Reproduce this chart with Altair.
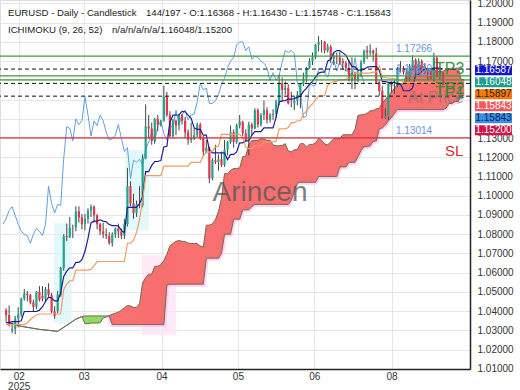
import altair as alt
import pandas as pd

# ---------------- data (bar index 0 = 2025-02-03, first visible bar = 3) ----------------
FIRST_BAR = 3

opens = [
    1.0404, 1.0380, 1.0300, 1.0308, 1.0362, 1.0383, 1.0465, 1.0491, 1.0483, 1.0446,
    1.0422, 1.0501, 1.0480, 1.0465, 1.0514, 1.0484, 1.0398, 1.0400, 1.0485, 1.0625,
    1.0790, 1.0784, 1.0835, 1.0834, 1.0919, 1.0887, 1.0852, 1.0880, 1.0923, 1.0943,
    1.0898, 1.0852, 1.0815, 1.0800, 1.0792, 1.0753, 1.0800, 1.0830, 1.0815, 1.0792,
    1.0852, 1.1050, 1.0960, 1.0910, 1.0955, 1.0950, 1.1195, 1.1360, 1.1350, 1.1285,
    1.1400, 1.1370, 1.1390, 1.1515, 1.1420, 1.1310, 1.1390, 1.1365, 1.1420, 1.1390,
    1.1330, 1.1290, 1.1297, 1.1315, 1.1370, 1.1300, 1.1230, 1.1250, 1.1090, 1.1185,
    1.1175, 1.1190, 1.1160, 1.1240, 1.1280, 1.1330, 1.1280, 1.1365, 1.1385, 1.1325,
    1.1290, 1.1370, 1.1350, 1.1445, 1.1370, 1.1420, 1.1445, 1.1395, 1.1420, 1.1425,
    1.1490, 1.1585, 1.1550, 1.1560, 1.1480, 1.1480, 1.1495, 1.1525, 1.1580, 1.1610,
    1.1665, 1.1700, 1.1720, 1.1785, 1.1800, 1.1800, 1.1755, 1.1775, 1.1710, 1.1725,
    1.1720, 1.1700, 1.1690, 1.1665, 1.1600, 1.1640, 1.1600, 1.1625, 1.1695, 1.1755,
    1.1745, 1.1755, 1.1740, 1.1590, 1.1545, 1.1405, 1.1415, 1.1585, 1.1572, 1.1575,
    1.1660, 1.1665, 1.1642, 1.1616, 1.1675, 1.1705, 1.1648, 1.1700, 1.1662, 1.1648,
    1.1650, 1.1608, 1.1718, 1.1620, 1.16368,
]
highs = [
    1.0415, 1.0430, 1.0340, 1.0375, 1.0420, 1.0470, 1.0515, 1.0505, 1.0490, 1.0460,
    1.0505, 1.0530, 1.0530, 1.0525, 1.0545, 1.0495, 1.0425, 1.0505, 1.0630, 1.0800,
    1.0855, 1.0890, 1.0850, 1.0945, 1.0945, 1.0905, 1.0905, 1.0935, 1.0955, 1.0950,
    1.0905, 1.0860, 1.0860, 1.0830, 1.0810, 1.0810, 1.0835, 1.0855, 1.0830, 1.0880,
    1.1145, 1.1075, 1.1010, 1.0975, 1.1050, 1.1215, 1.1475, 1.1420, 1.1380, 1.1405,
    1.1420, 1.1395, 1.1573, 1.1540, 1.1440, 1.1400, 1.1395, 1.1425, 1.1425, 1.1410,
    1.1345, 1.1380, 1.1350, 1.1380, 1.1380, 1.1310, 1.1290, 1.1255, 1.1195, 1.1265,
    1.1215, 1.1230, 1.1290, 1.1285, 1.1365, 1.1345, 1.1375, 1.1420, 1.1390, 1.1345,
    1.1385, 1.1380, 1.1455, 1.1455, 1.1430, 1.1495, 1.1460, 1.1430, 1.1450, 1.1500,
    1.1630, 1.1615, 1.1595, 1.1580, 1.1540, 1.1515, 1.1545, 1.1585, 1.1640, 1.1670,
    1.1715, 1.1745, 1.1790, 1.1830, 1.1810, 1.1805, 1.1790, 1.1785, 1.1745, 1.1745,
    1.1750, 1.1715, 1.1700, 1.1705, 1.1720, 1.1645, 1.1650, 1.1705, 1.1760, 1.1780,
    1.1788, 1.1760, 1.1770, 1.1600, 1.1570, 1.1455, 1.1590, 1.1595, 1.1600, 1.1670,
    1.1700, 1.1675, 1.1660, 1.1685, 1.1730, 1.1715, 1.1715, 1.1710, 1.1690, 1.1665,
    1.1660, 1.1743, 1.1725, 1.1665, 1.16430,
]
lows = [
    1.0345, 1.0320, 1.0285, 1.0280, 1.0315, 1.0370, 1.0455, 1.0450, 1.0435, 1.0400,
    1.0410, 1.0450, 1.0450, 1.0445, 1.0475, 1.0390, 1.0360, 1.0390, 1.0475, 1.0610,
    1.0765, 1.0780, 1.0780, 1.0815, 1.0860, 1.0825, 1.0820, 1.0855, 1.0890, 1.0860,
    1.0825, 1.0795, 1.0780, 1.0775, 1.0745, 1.0735, 1.0780, 1.0780, 1.0775, 1.0775,
    1.0840, 1.0945, 1.0880, 1.0890, 1.0935, 1.0940, 1.1190, 1.1300, 1.1265, 1.1270,
    1.1335, 1.1360, 1.1385, 1.1410, 1.1305, 1.1300, 1.1315, 1.1340, 1.1370, 1.1300,
    1.1265, 1.1275, 1.1290, 1.1305, 1.1290, 1.1205, 1.1220, 1.1065, 1.1080, 1.1165,
    1.1130, 1.1150, 1.1150, 1.1210, 1.1270, 1.1250, 1.1270, 1.1350, 1.1310, 1.1280,
    1.1210, 1.1315, 1.1345, 1.1355, 1.1360, 1.1395, 1.1375, 1.1380, 1.1395, 1.1405,
    1.1470, 1.1490, 1.1525, 1.1475, 1.1460, 1.1445, 1.1470, 1.1455, 1.1570, 1.1590,
    1.1660, 1.1680, 1.1710, 1.1750, 1.1745, 1.1740, 1.1745, 1.1690, 1.1680, 1.1685,
    1.1680, 1.1655, 1.1650, 1.1595, 1.1555, 1.1555, 1.1590, 1.1615, 1.1685, 1.1710,
    1.1730, 1.1700, 1.1585, 1.1520, 1.1400, 1.1400, 1.1392, 1.1535, 1.1530, 1.1565,
    1.1640, 1.1630, 1.1590, 1.1595, 1.1665, 1.1630, 1.1640, 1.1650, 1.1635, 1.1600,
    1.1605, 1.1585, 1.1615, 1.1605, 1.15748,
]
closes = [
    1.0380, 1.0330, 1.0308, 1.0362, 1.0383, 1.0465, 1.0491, 1.0483, 1.0446, 1.0422,
    1.0501, 1.0458, 1.0465, 1.0514, 1.0484, 1.0398, 1.0375, 1.0485, 1.0625, 1.0790,
    1.0784, 1.0833, 1.0834, 1.0919, 1.0887, 1.0852, 1.0880, 1.0923, 1.0943, 1.0898,
    1.0852, 1.0815, 1.0800, 1.0792, 1.0753, 1.0800, 1.0830, 1.0815, 1.0792, 1.0852,
    1.1050, 1.0960, 1.0910, 1.0955, 1.0950, 1.1195, 1.1360, 1.1350, 1.1285, 1.1400,
    1.1370, 1.1390, 1.1515, 1.1420, 1.1310, 1.1390, 1.1365, 1.1420, 1.1390, 1.1330,
    1.1290, 1.1297, 1.1315, 1.1370, 1.1300, 1.1230, 1.1250, 1.1090, 1.1185, 1.1175,
    1.1190, 1.1160, 1.1240, 1.1280, 1.1330, 1.1280, 1.1365, 1.1385, 1.1325, 1.1290,
    1.1370, 1.1350, 1.1445, 1.1370, 1.1420, 1.1445, 1.1395, 1.1420, 1.1425, 1.1490,
    1.1585, 1.1550, 1.1560, 1.1480, 1.1480, 1.1495, 1.1525, 1.1580, 1.1610, 1.1665,
    1.1700, 1.1720, 1.1785, 1.1800, 1.1800, 1.1755, 1.1775, 1.1710, 1.1725, 1.1720,
    1.1700, 1.1690, 1.1665, 1.1600, 1.1640, 1.1600, 1.1625, 1.1695, 1.1755, 1.1745,
    1.1755, 1.1740, 1.1590, 1.1545, 1.1405, 1.1415, 1.1585, 1.1572, 1.1575, 1.1660,
    1.1665, 1.1642, 1.1616, 1.1675, 1.1705, 1.1648, 1.1700, 1.1662, 1.1648, 1.1650,
    1.1608, 1.1718, 1.1620, 1.1637, 1.15843,
]
tenkan = [
    1.0340, 1.0340, 1.0345, 1.0345, 1.0345, 1.0350, 1.0398, 1.0398, 1.0398, 1.0398,
    1.0398, 1.0405, 1.0423, 1.0450, 1.0473, 1.0468, 1.0453, 1.0453, 1.0495, 1.0580,
    1.0608, 1.0625, 1.0625, 1.0653, 1.0653, 1.0668, 1.0710, 1.0778, 1.0860, 1.0868,
    1.0868, 1.0875, 1.0868, 1.0865, 1.0850, 1.0845, 1.0845, 1.0843, 1.0820, 1.0808,
    1.0940, 1.0940, 1.0940, 1.0940, 1.0960, 1.0995, 1.1125, 1.1125, 1.1158, 1.1178,
    1.1178, 1.1183, 1.1254, 1.1257, 1.1382, 1.1419, 1.1419, 1.1421, 1.1439, 1.1437,
    1.1419, 1.1403, 1.1353, 1.1345, 1.1345, 1.1315, 1.1315, 1.1238, 1.1223, 1.1223,
    1.1223, 1.1223, 1.1223, 1.1188, 1.1215, 1.1215, 1.1228, 1.1275, 1.1275, 1.1285,
    1.1285, 1.1315, 1.1333, 1.1333, 1.1333, 1.1353, 1.1353, 1.1353, 1.1353, 1.1408,
    1.1488, 1.1493, 1.1495, 1.1503, 1.1503, 1.1505, 1.1513, 1.1518, 1.1543, 1.1558,
    1.1580, 1.1595, 1.1618, 1.1638, 1.1643, 1.1643, 1.1700, 1.1710, 1.1745, 1.1755,
    1.1755, 1.1743, 1.1730, 1.1700, 1.1673, 1.1670, 1.1653, 1.1653, 1.1658, 1.1668,
    1.1672, 1.1672, 1.1672, 1.1654, 1.1594, 1.1594, 1.1590, 1.1590, 1.1590, 1.1581,
    1.1581, 1.1546, 1.1546, 1.1546, 1.1561, 1.1630, 1.1630, 1.1648, 1.1660, 1.1660,
    1.1660, 1.1664, 1.1664, 1.1664, 1.1659,
]
kijun = [
    1.0330, 1.0330, 1.0330, 1.0330, 1.0330, 1.0330, 1.0330, 1.0340, 1.0355, 1.0370,
    1.0380, 1.0385, 1.0385, 1.0385, 1.0385, 1.0385, 1.0385, 1.0385, 1.0385, 1.0513,
    1.0540, 1.0558, 1.0558, 1.0613, 1.0613, 1.0613, 1.0613, 1.0613, 1.0618, 1.0635,
    1.0658, 1.0658, 1.0658, 1.0658, 1.0658, 1.0658, 1.0658, 1.0658, 1.0658, 1.0658,
    1.0753, 1.0753, 1.0768, 1.0810, 1.0878, 1.0975, 1.1105, 1.1105, 1.1105, 1.1105,
    1.1105, 1.1105, 1.1154, 1.1154, 1.1154, 1.1154, 1.1154, 1.1154, 1.1154, 1.1154,
    1.1154, 1.1174, 1.1174, 1.1174, 1.1174, 1.1207, 1.1227, 1.1227, 1.1232, 1.1254,
    1.1257, 1.1319, 1.1319, 1.1319, 1.1319, 1.1319, 1.1319, 1.1319, 1.1303, 1.1253,
    1.1245, 1.1245, 1.1260, 1.1260, 1.1260, 1.1280, 1.1280, 1.1280, 1.1280, 1.1283,
    1.1348, 1.1348, 1.1348, 1.1355, 1.1380, 1.1380, 1.1390, 1.1390, 1.1425, 1.1440,
    1.1463, 1.1478, 1.1500, 1.1520, 1.1520, 1.1520, 1.1573, 1.1588, 1.1593, 1.1595,
    1.1603, 1.1603, 1.1605, 1.1613, 1.1618, 1.1638, 1.1638, 1.1638, 1.1638, 1.1638,
    1.1638, 1.1643, 1.1643, 1.1675, 1.1615, 1.1615, 1.1611, 1.1611, 1.1611, 1.1601,
    1.1599, 1.1591, 1.1590, 1.1590, 1.1590, 1.1590, 1.1590, 1.1590, 1.1590, 1.1590,
    1.1590, 1.1590, 1.1590, 1.1590, 1.1590,
]

# Kumo (cloud), drawn 26 bars ahead
kumo_x = [3, 8, 14, 20, 24, 26, 28] + list(range(29, 155))
senkou_a = [
    1.0342, 1.0321, 1.0305, 1.0295, 1.0337, 1.0358, 1.0372,
    1.0335, 1.0335, 1.0338, 1.0338, 1.0338, 1.0340, 1.0364, 1.0369, 1.0377, 1.0384,
    1.0389, 1.0395, 1.0404, 1.0418, 1.0429, 1.0427, 1.0419, 1.0419, 1.0440, 1.0547,
    1.0574, 1.0592, 1.0592, 1.0633, 1.0633, 1.0641, 1.0662, 1.0696, 1.0739, 1.0752,
    1.0763, 1.0767, 1.0763, 1.0762, 1.0754, 1.0752, 1.0752, 1.0751, 1.0739, 1.0733,
    1.0847, 1.0847, 1.0854, 1.0875, 1.0919, 1.0985, 1.1115, 1.1115, 1.1132, 1.1142,
    1.1142, 1.1144, 1.1204, 1.1206, 1.1268, 1.1287, 1.1287, 1.1288, 1.1297, 1.1296,
    1.1287, 1.1289, 1.1264, 1.1260, 1.1260, 1.1261, 1.1271, 1.1233, 1.1228, 1.1239,
    1.1240, 1.1271, 1.1271, 1.1254, 1.1267, 1.1267, 1.1274, 1.1297, 1.1289, 1.1269,
    1.1265, 1.1280, 1.1297, 1.1297, 1.1297, 1.1317, 1.1317, 1.1317, 1.1317, 1.1346,
    1.1418, 1.1421, 1.1422, 1.1429, 1.1442, 1.1443, 1.1452, 1.1454, 1.1484, 1.1499,
    1.1522, 1.1537, 1.1559, 1.1579, 1.1582, 1.1582, 1.1637, 1.1649, 1.1669, 1.1675,
    1.1679, 1.1673, 1.1668, 1.1657, 1.1646, 1.1654, 1.1646, 1.1646, 1.1648, 1.1653,
    1.1655, 1.1658, 1.1658, 1.1665, 1.1605, 1.1605,
]
senkou_b = [
    1.0342, 1.0321, 1.0305, 1.0295, 1.0337, 1.0358, 1.0372,
    1.0375, 1.0375, 1.0375, 1.0375, 1.0375, 1.0375, 1.0375, 1.0375, 1.0375, 1.0330,
    1.0330, 1.0330, 1.0330, 1.0330, 1.0330, 1.0330, 1.0330, 1.0330, 1.0330, 1.0330,
    1.0330, 1.0330, 1.0330, 1.0330, 1.0330, 1.0330, 1.0330, 1.0535, 1.0540, 1.0540,
    1.0540, 1.0540, 1.0540, 1.0540, 1.0540, 1.0540, 1.0540, 1.0540, 1.0540, 1.0540,
    1.0675, 1.0675, 1.0675, 1.0675, 1.0675, 1.0700, 1.0800, 1.0800, 1.0800, 1.0878,
    1.0878, 1.0878, 1.0927, 1.0927, 1.0927, 1.0944, 1.0955, 1.0955, 1.0955, 1.0955,
    1.0955, 1.0955, 1.0955, 1.0955, 1.0955, 1.0955, 1.0955, 1.0955, 1.0975, 1.1024,
    1.1066, 1.1070, 1.1070, 1.1070, 1.1070, 1.1070, 1.1070, 1.1100, 1.1100, 1.1100,
    1.1100, 1.1100, 1.1100, 1.1100, 1.1150, 1.1150, 1.1150, 1.1174, 1.1174, 1.1174,
    1.1203, 1.1235, 1.1255, 1.1255, 1.1260, 1.1283, 1.1285, 1.1348, 1.1353, 1.1368,
    1.1390, 1.1405, 1.1428, 1.1448, 1.1448, 1.1448, 1.1448, 1.1448, 1.1448, 1.1448,
    1.1448, 1.1448, 1.1448, 1.1448, 1.1448, 1.1448, 1.1448, 1.1448, 1.1448, 1.1455,
    1.1480, 1.1480, 1.1490, 1.1490, 1.1520, 1.1520,
]
KUMO_GREEN_FROM, KUMO_GREEN_TO = 28, 37

# Faint highlight zones (bar index from/to, price low/high)
zone_x0 = [18.8, 42.3, 47.8]
zone_x1 = [24.6, 50.1, 59.1]
zone_lo = [1.0337, 1.0821, 1.0274]
zone_hi = [1.0857, 1.1238, 1.0691]
zone_col = ["#d9f6f8", "#d9f6f8", "#fde3f4"]

# Trade levels
tp_levels = [1.17266, 1.16230, 1.16021]
tp_names = ["TP3", "TP2", "TP1"]
dashed_levels = [1.16587, 1.15843, 1.1518]
sl_level = 1.13014
entry_level = 1.15843

# Axis ticks (labels of 1.14-1.16 sit under the price tags)
y_ticks = [1.01, 1.02, 1.03, 1.04, 1.05, 1.06, 1.07, 1.08, 1.09, 1.10,
           1.11, 1.12, 1.13, 1.14, 1.15, 1.16, 1.17, 1.18, 1.19, 1.20]
y_hidden = [1.14, 1.15, 1.16]
x_tick_pos = [7.16, 28.6, 54.26, 79.42, 104.58, 130.07]
x_tick_lab = ["02|2025", "03", "04", "05", "06", "08"]

# Price tags at the right
tag_text = ["1.16587", "1.16048", "1.15897", "1.15843", "1.15843", "1.15200"]
tag_bg = ["#1414c8", "#1f9e8c", "#f27c12", "#f0585c", "#3a8ee6", "#d3124c"]
tag_fg = ["#ffffff", "#ffffff", "#3a1a00", "#ffffff", "#0d2550", "#ffffff"]

# ---------------- chart ----------------
FONT = "Liberation Sans"
xs = alt.Scale(domain=[2.645, 154.26], nice=False, zero=False)
ys = alt.Scale(domain=[1.0099, 1.2018], nice=False, zero=False)

x_label_expr = " : ".join(
    [f"abs(datum.value - {p}) < 0.5 ? split('{l}', '|')" for p, l in zip(x_tick_pos, x_tick_lab)]
) + " : ''"
y_label_expr = " || ".join([f"abs(datum.value - {v}) < 0.001" for v in y_hidden]) + \
    " ? '' : format(datum.value, '.5f')"
x_axis = alt.Axis(values=x_tick_pos, labelExpr=x_label_expr, title=None, ticks=False,
                  labelPadding=2, labelFontSize=10, labelColor="#333", labelFont=FONT,
                  domainColor="#222", domainWidth=1.5, grid=True, gridColor="#e6e6e6",
                  labelOverlap=False, labelFlush=False, labelLineHeight=10)
y_axis = alt.Axis(values=y_ticks, labelExpr=y_label_expr, orient="right", title=None, ticks=False,
                  labelPadding=7, labelFontSize=10, labelColor="#333", labelFont=FONT,
                  domainColor="#222", domainWidth=1.5, grid=True, gridColor="#e6e6e6",
                  labelOverlap=False, labelFlush=False)


def X(field):
    return alt.X(field, type="quantitative", scale=xs, axis=x_axis)


def Y(field):
    return alt.Y(field, type="quantitative", scale=ys, axis=y_axis)


bars = pd.DataFrame({
    "i": list(range(FIRST_BAR, FIRST_BAR + len(closes))),
    "open": opens, "high": highs, "low": lows, "close": closes,
    "tenkan": tenkan, "kijun": kijun,
})
kumo = pd.DataFrame({"j": kumo_x, "a": senkou_a, "b": senkou_b})
zones = pd.DataFrame({"x0": zone_x0, "x1": zone_x1, "lo": zone_lo, "hi": zone_hi, "c": zone_col})

zone_rects = alt.Chart(zones).mark_rect(opacity=0.75, clip=True).encode(
    x=X("x0"), x2="x1", y=Y("lo"), y2="hi", color=alt.Color("c:N", scale=None))

kbase = alt.Chart(kumo)
kumo_glow = kbase.transform_filter(f"datum.j >= {KUMO_GREEN_TO}").mark_line(
    color="#ffc8ec", strokeWidth=5, opacity=0.8, clip=True).encode(x=X("j"), y=Y("b"))
kumo_green = kbase.transform_filter(
    f"datum.j >= {KUMO_GREEN_FROM} && datum.j <= {KUMO_GREEN_TO}"
).mark_area(color="#8fd65a", opacity=0.95, clip=True).encode(x=X("j"), y=Y("a"), y2="b")
kumo_red = kbase.transform_filter(f"datum.j >= {KUMO_GREEN_TO}").mark_area(
    color="#f86868", opacity=0.95, clip=True).encode(x=X("j"), y=Y("a"), y2="b")
kumo_a_line = kbase.mark_line(color="#6f6a52", strokeWidth=1, clip=True).encode(x=X("j"), y=Y("a"))
kumo_b_line = kbase.mark_line(color="#6f6a52", strokeWidth=1, clip=True).encode(x=X("j"), y=Y("b"))

bbase = alt.Chart(bars)
chikou = bbase.transform_calculate(ci="datum.i - 26").transform_filter("datum.ci >= 2").mark_line(
    color="#62a0dc", strokeWidth=1, clip=True).encode(x=X("ci"), y=Y("close"))
wicks = bbase.mark_rule(color="#444", strokeWidth=1, clip=True).encode(x=X("i"), y=Y("low"), y2="high")
bodies = bbase.mark_bar(width=2.2, clip=True).encode(
    x=X("i"), y=Y("open"), y2="close",
    color=alt.condition("datum.close >= datum.open", alt.value("#22a58a"), alt.value("#e8344c")),
)
tenkan_line = bbase.mark_line(color="#1d1d9a", strokeWidth=1.2, clip=True).encode(x=X("i"), y=Y("tenkan"))
kijun_line = bbase.mark_line(color="#f19c62", strokeWidth=1.2, clip=True).encode(x=X("i"), y=Y("kijun"))

tp_df = pd.DataFrame({"v": tp_levels, "name": tp_names})
tp_rules = alt.Chart(tp_df).mark_rule(color="#3d9a3d", strokeWidth=1.2).encode(y=Y("v"))
dash_rules = alt.Chart(pd.DataFrame({"v": dashed_levels})).mark_rule(
    color="#111", strokeWidth=1, strokeDash=[4, 3]).encode(y=Y("v"))
sl_rule = alt.Chart(pd.DataFrame({"v": [sl_level]})).mark_rule(
    color="#d2303f", strokeWidth=1.2).encode(y=Y("v"))

num_labels = alt.Chart(pd.DataFrame({"v": tp_levels + [sl_level]})).transform_calculate(
    t="format(datum.v, '.5f')").mark_text(
    align="left", baseline="middle", dy=-7, fontSize=10, font=FONT, color="#6f95d3").encode(
    x=alt.value(396), y=Y("v"), text="t:N")
tp_text = alt.Chart(tp_df).mark_text(
    align="left", baseline="middle", dy=13, fontSize=16, font=FONT, color="#2f8a2f", opacity=0.9).encode(
    x=alt.value(435), y=Y("v"), text="name:N")
sl_text = alt.Chart(pd.DataFrame({"v": [sl_level], "t": ["SL"]})).mark_text(
    align="left", baseline="middle", dy=13, fontSize=15, font=FONT, color="#d42a35").encode(
    x=alt.value(445), y=Y("v"), text="t:N")
entry_text = alt.Chart(pd.DataFrame({"v": [entry_level], "t": ["At Price"]})).mark_text(
    align="left", baseline="middle", dy=15, fontSize=16, font=FONT, color="#777", opacity=0.6).encode(
    x=alt.value(408), y=Y("v"), text="t:N")

watermark = alt.Chart(pd.DataFrame({"t": ["Arincen"]})).mark_text(
    fontSize=28, font=FONT, color="#555", opacity=0.75, align="center", baseline="middle").encode(
    x=alt.value(260), y=alt.value(193), text="t:N")

tags = pd.DataFrame({"t": tag_text, "bg": tag_bg, "fg": tag_fg, "k": list(range(len(tag_text)))})
tag_base = alt.Chart(tags).transform_calculate(cy="70.3 + 12 * datum.k", y0="datum.cy - 5",
                                               y1="datum.cy + 5")
tag_rect = tag_base.mark_rect().encode(
    x=alt.value(475), x2=alt.value(512),
    y=alt.Y("y0:Q", scale=None), y2="y1:Q",
    color=alt.Color("bg:N", scale=None))
tag_txt = tag_base.mark_text(fontSize=10, font=FONT, align="center", baseline="middle").encode(
    x=alt.value(493.5), y=alt.Y("cy:Q", scale=None), text="t:N",
    color=alt.Color("fg:N", scale=None))

header = pd.DataFrame({
    "t": ["EURUSD - Daily - Candlestick",
          "144/197 - O:1.16368 - H:1.16430 - L:1.15748 - C:1.15843",
          "ICHIMOKU (9, 26, 52)",
          "n/a/n/a/n/a/1.16048/1.15200"],
    "col": [0, 1, 0, 1], "row": [0, 0, 1, 1],
})
head = alt.Chart(header).transform_calculate(
    px="datum.col == 0 ? 8 : (datum.row == 0 ? 146 : 112)", py="12.7 + 17.5 * datum.row"
).mark_text(align="left", baseline="middle", fontSize=9.6, font=FONT, color="#222").encode(
    x=alt.X("px:Q", scale=None), y=alt.Y("py:Q", scale=None), text="t:N")

chart = alt.layer(
    zone_rects, kumo_glow, kumo_green, kumo_red, kumo_a_line, kumo_b_line, chikou, wicks, bodies,
    tenkan_line, kijun_line, tp_rules, dash_rules, sl_rule,
    num_labels, tp_text, sl_text, entry_text, watermark, tag_rect, tag_txt, head,
).properties(
    width=470, height=369,
    padding={"left": 0, "top": 0, "right": 50, "bottom": 21},
    autosize=alt.AutoSizeParams(type="none"),
    background="white",
).configure_view(stroke=None).configure(font=FONT)

chart.save("out.html", embed_options={"renderer": "svg", "actions": False})
